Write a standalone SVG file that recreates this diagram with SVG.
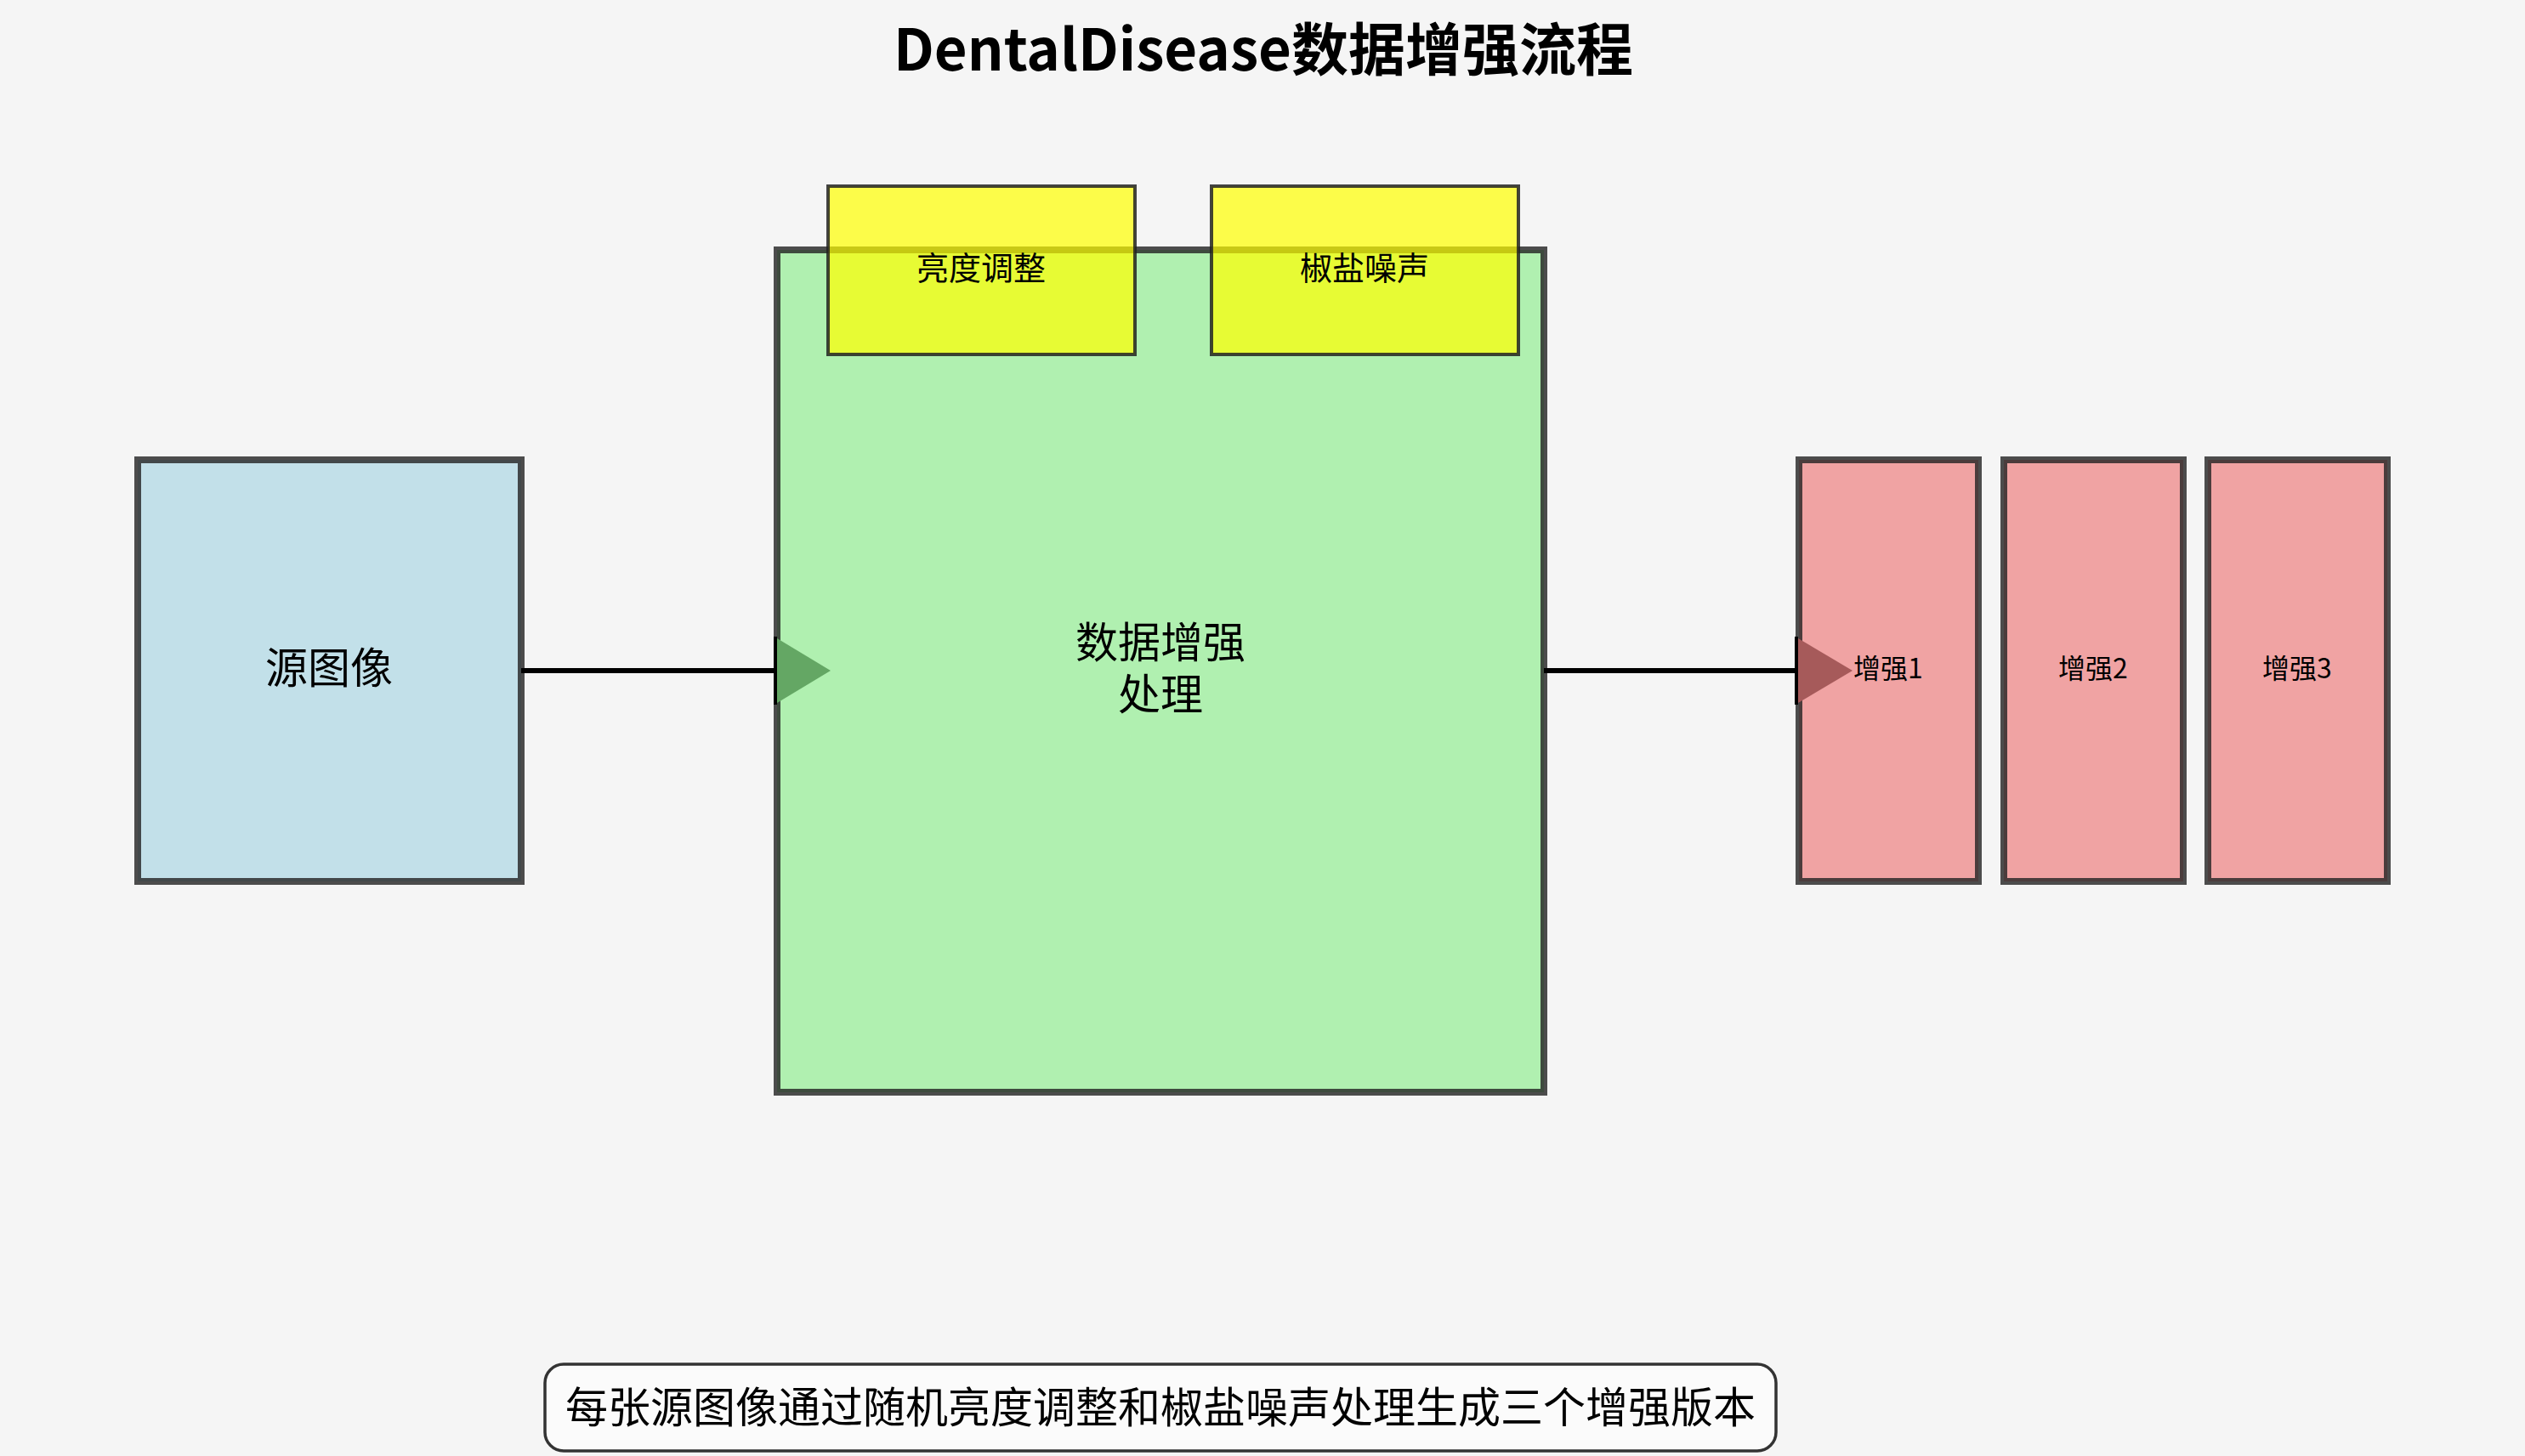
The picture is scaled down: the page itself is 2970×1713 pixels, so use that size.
<svg xmlns="http://www.w3.org/2000/svg" width="2970" height="1713" viewBox="0 0 2970 1713">
  <style>
    text { font-family: "Noto Sans CJK SC", "Noto Sans", sans-serif; fill: #000; text-anchor: middle; dominant-baseline: central; }
    .node { stroke: #222; stroke-opacity: 0.8; stroke-width: 8; }
    .src { fill: #c2e0e9; }
    .proc { fill: #b0f0b0; }
    .op { fill: #ffff00; fill-opacity: 0.7; stroke: #222; stroke-opacity: 0.85; stroke-width: 4; }
    .out { fill: #f0a3a3; }
    .title { font-size: 67px; font-weight: bold; dominant-baseline: alphabetic; }
    .lbl { font-size: 50px; }
    .small { font-size: 38px; }
    .outlbl { font-size: 32px; }
    .edge { stroke: #000; stroke-width: 6; fill: none; }
    .bar { stroke: #000; stroke-width: 4; }
    .note { fill: #fbfbfb; stroke: #333; stroke-width: 3.5; }
  </style>
  <rect x="0" y="0" width="2970" height="1713" fill="#f5f5f5"/>
  <text class="title" x="1486" y="83">DentalDisease数据增强流程</text>

  <g id="node-source">
    <rect class="node src" x="162" y="541" width="451" height="496"/>
    <text class="lbl" x="387" y="782">源图像</text>
  </g>

  <g id="node-process">
    <rect class="node proc" x="914" y="294" width="902" height="991"/>
    <text class="lbl" x="1365" y="752"><tspan x="1365" y="752">数据增强</tspan><tspan x="1365" y="813">处理</tspan></text>
  </g>

  <g id="node-brightness">
    <rect class="op" x="974" y="219" width="361" height="198"/>
    <text class="small" x="1154" y="312">亮度调整</text>
  </g>

  <g id="node-noise">
    <rect class="op" x="1425" y="219" width="361" height="198"/>
    <text class="small" x="1605" y="312">椒盐噪声</text>
  </g>

  <g id="node-aug1">
    <rect class="node out" x="2116" y="541" width="211" height="496"/>
    <text class="outlbl" x="2221" y="784">增强1</text>
  </g>
  <g id="node-aug2">
    <rect class="node out" x="2357" y="541" width="211" height="496"/>
    <text class="outlbl" x="2462" y="784">增强2</text>
  </g>
  <g id="node-aug3">
    <rect class="node out" x="2597" y="541" width="211" height="496"/>
    <text class="outlbl" x="2702" y="784">增强3</text>
  </g>

  <g id="connectors">
    <line class="edge" x1="613" y1="789" x2="913" y2="789"/>
    <line class="bar" x1="912" y1="749" x2="912" y2="829"/>
    <polygon points="914,751 977,789 914,827" fill="#64a764"/>
    <line class="edge" x1="1816" y1="789" x2="2114" y2="789"/>
    <line class="bar" x1="2113" y1="749" x2="2113" y2="829"/>
    <polygon points="2115,751 2179,789 2115,827" fill="#a65a5a"/>
  </g>

  <g id="caption">
    <rect class="note" x="641" y="1605" width="1448" height="102" rx="22" ry="22"/>
    <text class="lbl" x="1365" y="1652">每张源图像通过随机亮度调整和椒盐噪声处理生成三个增强版本</text>
  </g>
</svg>
